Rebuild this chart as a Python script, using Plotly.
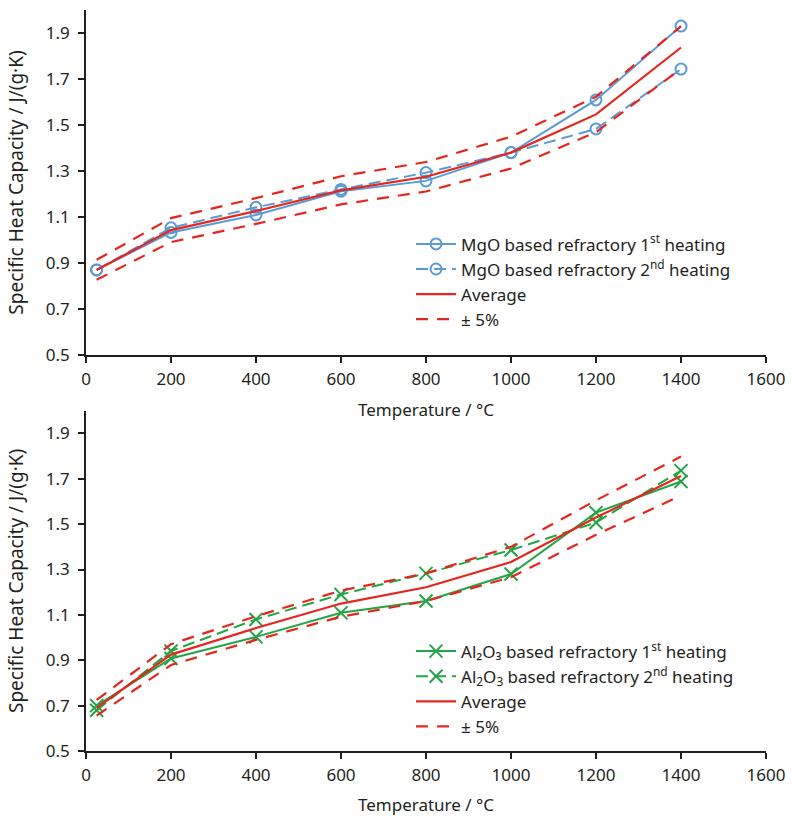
import plotly.graph_objects as go
from plotly.subplots import make_subplots

# Temperatures (°C)
temps = [25, 200, 400, 600, 800, 1000, 1200, 1400]

# MgO based refractory (J/(g·K))
mgo_heat1 = [0.870, 1.033, 1.109, 1.212, 1.257, 1.380, 1.609, 1.930]
mgo_heat2 = [0.870, 1.053, 1.142, 1.220, 1.293, 1.380, 1.483, 1.743]
mgo_avg = [0.870, 1.043, 1.126, 1.216, 1.275, 1.380, 1.546, 1.837]
mgo_plus5 = [0.914, 1.095, 1.182, 1.277, 1.339, 1.449, 1.623, 1.929]
mgo_minus5 = [0.827, 0.991, 1.070, 1.155, 1.211, 1.311, 1.469, 1.745]

# Al2O3 based refractory (J/(g·K))
al_heat1 = [0.700, 0.908, 1.003, 1.109, 1.161, 1.280, 1.551, 1.688]
al_heat2 = [0.680, 0.941, 1.080, 1.190, 1.283, 1.386, 1.507, 1.736]
al_avg = [0.690, 0.925, 1.042, 1.150, 1.222, 1.333, 1.529, 1.712]
al_plus5 = [0.725, 0.971, 1.094, 1.207, 1.283, 1.400, 1.605, 1.798]
al_minus5 = [0.656, 0.879, 0.990, 1.092, 1.161, 1.266, 1.453, 1.626]

x_ticks = [0, 200, 400, 600, 800, 1000, 1200, 1400, 1600]
y_ticks = [0.5, 0.7, 0.9, 1.1, 1.3, 1.5, 1.7, 1.9]

BLUE = "#5b9bd5"
RED = "#e5261e"
GREEN = "#22a546"
INK = "#231f20"
FONT = "Noto Sans"

fig = make_subplots(rows=2, cols=1, vertical_spacing=0.07)

# ---- top panel: MgO ----
fig.add_trace(go.Scatter(x=temps, y=mgo_heat1, mode="lines+markers",
                         name="MgO based refractory 1<sup>st</sup> heating",
                         line=dict(color=BLUE, width=2),
                         marker=dict(symbol="circle-open", size=11, color=BLUE, line=dict(width=2)),
                         legend="legend"), row=1, col=1)
fig.add_trace(go.Scatter(x=temps, y=mgo_heat2, mode="lines+markers",
                         name="MgO based refractory 2<sup>nd</sup> heating",
                         line=dict(color=BLUE, width=2, dash="12px,6px"),
                         marker=dict(symbol="circle-open", size=11, color=BLUE, line=dict(width=2)),
                         legend="legend"), row=1, col=1)
fig.add_trace(go.Scatter(x=temps, y=mgo_avg, mode="lines", name="Average",
                         line=dict(color=RED, width=2.2), legend="legend"), row=1, col=1)
fig.add_trace(go.Scatter(x=temps, y=mgo_plus5, mode="lines", name="± 5%",
                         line=dict(color=RED, width=2.2, dash="12px,9px"), legend="legend"), row=1, col=1)
fig.add_trace(go.Scatter(x=temps, y=mgo_minus5, mode="lines", name="± 5%", showlegend=False,
                         line=dict(color=RED, width=2.2, dash="12px,9px"), legend="legend"), row=1, col=1)

# ---- bottom panel: Al2O3 ----
fig.add_trace(go.Scatter(x=temps, y=al_heat1, mode="lines+markers",
                         name="Al₂O₃ based refractory 1<sup>st</sup> heating",
                         line=dict(color=GREEN, width=2),
                         marker=dict(symbol="x-thin-open", size=13, color=GREEN, line=dict(width=2, color=GREEN)),
                         legend="legend2"), row=2, col=1)
fig.add_trace(go.Scatter(x=temps, y=al_heat2, mode="lines+markers",
                         name="Al<sub>2</sub>O<sub>3</sub> based refractory 2<sup>nd</sup> heating",
                         line=dict(color=GREEN, width=2, dash="12px,6px"),
                         marker=dict(symbol="x-thin-open", size=13, color=GREEN, line=dict(width=2, color=GREEN)),
                         legend="legend2"), row=2, col=1)
fig.add_trace(go.Scatter(x=temps, y=al_avg, mode="lines", name="Average",
                         line=dict(color=RED, width=2.2), legend="legend2"), row=2, col=1)
fig.add_trace(go.Scatter(x=temps, y=al_plus5, mode="lines", name="± 5%",
                         line=dict(color=RED, width=2.2, dash="12px,9px"), legend="legend2"), row=2, col=1)
fig.add_trace(go.Scatter(x=temps, y=al_minus5, mode="lines", name="± 5%", showlegend=False,
                         line=dict(color=RED, width=2.2, dash="12px,9px"), legend="legend2"), row=2, col=1)

axis_common = dict(showline=True, linecolor=INK, linewidth=1.5, ticks="outside",
                   ticklen=6, tickwidth=1.5, tickcolor=INK, showgrid=False, zeroline=False,
                   automargin=False,
                   tickfont=dict(family=FONT, size=17, color=INK))

for r, dom in [(1, [0.5344, 1.0]), (2, [0.0, 0.4592])]:
    fig.update_xaxes(range=[0, 1600], tickvals=x_ticks, ticktext=[str(v) for v in x_ticks],
                     title_text="Temperature / °C", title_standoff=15,
                     title_font=dict(family=FONT, size=17, color=INK),
                     ticklabelstandoff=2, row=r, col=1, **axis_common)
    fig.update_yaxes(range=[0.5, 2.0], tickvals=y_ticks, ticktext=[f"{v:.1f}" for v in y_ticks],
                     title_text="Specific Heat Capacity / J/(g·K)", title_standoff=17,
                     title_font=dict(family=FONT, size=19, color=INK),
                     ticklabelstandoff=5, domain=dom, row=r, col=1, **axis_common)

legend_common = dict(font=dict(family=FONT, size=17, color=INK), bgcolor="rgba(0,0,0,0)",
                     xanchor="left", yanchor="top", itemwidth=40, tracegroupgap=0)
fig.update_layout(
    width=792, height=816,
    margin=dict(l=86, r=26, t=10, b=65),
    paper_bgcolor="white", plot_bgcolor="white",
    font=dict(family=FONT, color=INK),
    legend=dict(x=0.478, y=0.708, **legend_common),
    legend2=dict(x=0.478, y=0.1585, **legend_common),
)

fig.write_html("out.html", config={"displayModeBar": False},
               post_script="document.body.style.margin='0';document.body.style.overflow='hidden';")
